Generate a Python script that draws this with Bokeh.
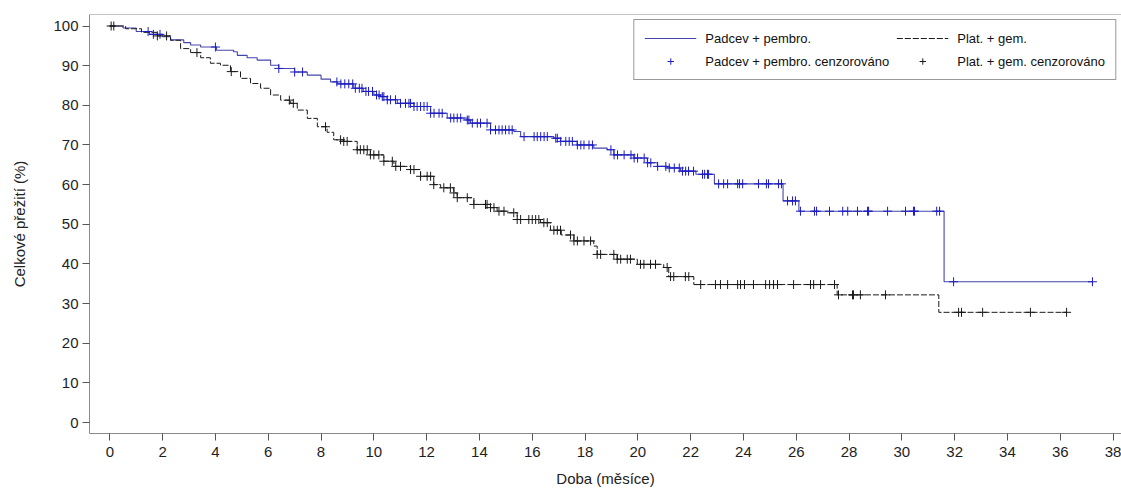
import numpy as np
from bokeh.plotting import figure
from bokeh.models import Range1d, FixedTicker, Legend, LegendItem, Span
from bokeh.embed import file_html
from bokeh.resources import INLINE

# ---------------- data ----------------
x_ticks = list(range(0, 40, 2))
y_ticks = list(range(0, 101, 10))

label_pp = "Padcev + pembro."
label_pg = "Plat. + gem."
label_pp_c = "Padcev + pembro. cenzorováno"
label_pg_c = "Plat. + gem. cenzorováno"

# Padcev + pembro. : step knots (month, % alive)
pp_time = [0, 0.5, 1.0, 1.5, 2.0, 2.3, 2.8, 3.06, 3.44, 4.04, 4.69, 4.83, 5.2, 5.58,
           6.09, 6.40, 7.0, 7.48, 8.0, 8.36, 8.61, 9.24, 9.6, 10.0, 10.25, 10.5,
           10.89, 11.52, 12.15, 12.78, 13.54, 13.66, 14.42, 15.30, 15.56, 16.82,
           17.07, 17.70, 18.33, 18.84, 19.09, 19.85, 20.36, 20.74, 21.11, 21.62,
           22.2, 22.9, 25.5, 26.1, 31.6]
pp_surv = [100, 99.5, 98.6, 97.9, 97.3, 96.5, 95.8, 95.2, 94.7, 93.9, 93.5, 92.6, 92.0, 91.4,
           90.1, 89.3, 88.4, 87.6, 86.6, 85.9, 85.4, 84.3, 83.5, 82.6, 82.2, 81.4,
           80.5, 79.7, 78.0, 76.8, 76.3, 75.5, 73.8, 73.4, 72.1, 71.7,
           70.9, 70.0, 69.2, 68.8, 67.5, 66.7, 65.5, 64.6, 64.2, 63.4,
           62.6, 60.2, 55.9, 53.3, 35.5]
pp_end = 37.22
pp_cens = [1.45, 1.65, 1.9, 4.0, 6.4, 7.0, 7.3, 8.6, 8.75, 8.9, 9.05, 9.2, 9.3, 9.45, 9.55,
           9.7, 9.8, 9.95, 10.1, 10.2,
           10.32, 10.38, 10.51, 10.63, 10.82, 11.01, 11.20, 11.33, 11.39, 11.52, 11.64, 11.77,
           11.90, 12.02, 12.15, 12.28, 12.47, 12.59, 12.91, 13.03, 13.16, 13.29, 13.54, 13.60,
           13.73, 13.92, 14.04, 14.29, 14.42, 14.61, 14.74, 14.86, 14.99, 15.12, 15.24, 15.69,
           16.07, 16.19, 16.32, 16.45, 16.57, 16.89, 16.95, 17.08, 17.27, 17.40, 17.52, 17.71,
           17.84, 17.96, 18.15, 18.28, 18.98, 19.10, 19.23, 19.48, 19.74, 19.86, 19.99, 20.24,
           20.37, 20.49, 20.75, 21.06, 21.19, 21.38, 21.57,
           21.69, 21.81, 21.92, 22.11, 22.45, 22.53, 22.64, 22.68, 23.06, 23.25, 23.40, 23.78,
           23.85, 23.97, 24.57, 24.87, 24.95, 25.33, 25.44, 25.67, 25.86, 25.97, 26.16, 26.69,
           26.77, 27.26, 27.76, 27.95, 28.32, 28.70, 28.74, 29.46, 30.14, 30.44, 30.48, 31.32,
           31.43, 31.96, 37.22]

# Plat. + gem. : step knots
pg_time = [0, 0.6, 1.2, 1.8, 2.3, 2.68, 3.06, 3.44, 3.81, 4.19, 4.57, 4.95, 5.33, 5.71,
           6.09, 6.47, 6.85, 7.10, 7.48, 7.86, 8.23, 8.48, 8.86, 9.37, 9.87, 10.38,
           10.76, 11.39, 11.77, 12.27, 12.53, 13.03, 13.16, 13.79, 14.42, 14.67, 15.05,
           15.43, 16.31, 16.69, 17.1, 17.58, 18.33, 18.46, 19.22, 19.98, 20.98, 21.17,
           22.12, 27.55, 31.4]
pg_surv = [100, 99.3, 98.4, 97.5, 96.4, 94.3, 93.3, 92.0, 90.6, 90.1, 88.5, 86.8, 85.5, 84.3,
           82.6, 81.3, 80.5, 78.8, 76.7, 74.6, 73.2, 71.3, 70.9, 68.8, 67.5, 65.9,
           64.6, 63.8, 62.1, 60.0, 59.2, 57.9, 56.7, 55.0, 54.2, 53.3, 52.9,
           51.2, 50.4, 48.5, 47.3, 45.8, 44.5, 42.4, 41.2, 39.9, 39.1, 36.8,
           34.8, 32.2, 27.8]
pg_end = 36.24
pg_cens = [0.05, 0.15, 1.8, 2.15, 3.3, 4.6, 6.8, 6.95, 8.17,
           8.74, 8.86, 8.99, 9.37, 9.49, 9.62, 9.75, 9.87, 10.0, 10.19, 10.38, 10.70, 10.83,
           11.01, 11.39, 11.52, 11.77, 12.02, 12.15, 12.27,
           12.65, 12.90, 13.03, 13.16, 13.54, 13.79, 14.23, 14.29, 14.42, 14.55, 14.74, 14.93,
           15.30, 15.43, 15.56, 15.87, 16.00, 16.13, 16.25, 16.44, 16.57, 16.82, 16.95, 17.07,
           17.45, 17.58, 17.71, 17.96, 18.21, 18.46, 18.59, 19.09, 19.22, 19.35, 19.60, 19.72,
           20.10, 20.23, 20.48, 20.67, 21.11, 21.24, 21.36, 21.80, 21.93,
           22.38, 22.94, 23.13, 23.40, 23.78, 23.89, 24.04, 24.38, 24.84, 24.99, 25.14, 25.29,
           25.90, 26.54, 26.66, 26.92, 27.45, 27.60, 28.13, 28.17, 28.43, 29.38, 32.15, 32.26,
           33.06, 34.87, 36.24]


def step_xy(times, surv, end):
    return list(times) + [end], list(surv) + [surv[-1]]


def at(times, surv, pts):
    idx = np.searchsorted(np.asarray(times), np.asarray(pts), side="right") - 1
    return list(np.asarray(surv)[idx])


BLUE_LINE = "#4646aa"
BLUE_MARK = "#1c1cc4"
BLACK = "#1a1a1a"
FRAME = "#8a8a8a"
FONT = "Liberation Sans"

p = figure(width=1121, height=489, output_backend="svg", toolbar_location=None,
           x_range=Range1d(-0.77, 38.32), y_range=Range1d(-2.76, 102.9),
           min_border_left=89, min_border_right=0, min_border_top=14, min_border_bottom=54)
p.background_fill_color = "white"
p.border_fill_color = "white"
p.outline_line_color = None
p.xgrid.visible = False
p.ygrid.visible = False

# top edge of the frame (no right edge, as in the original)
p.add_layout(Span(location=p.y_range.end, dimension="width", line_color=FRAME, line_width=1))

px, py = step_xy(pp_time, pp_surv, pp_end)
gx, gy = step_xy(pg_time, pg_surv, pg_end)

r_pp = p.step(px, py, mode="after", line_color=BLUE_LINE, line_width=1.1)
r_pg = p.step(gx, gy, mode="after", line_color=BLACK, line_width=1, line_dash="6 2")
r_ppc = p.scatter(pp_cens, at(pp_time, pp_surv, pp_cens), marker="cross", size=9,
                  line_color=BLUE_MARK, line_width=1)
r_pgc = p.scatter(pg_cens, at(pg_time, pg_surv, pg_cens), marker="cross", size=9,
                  line_color=BLACK, line_width=1)

for ax in (p.xaxis[0], p.yaxis[0]):
    ax.axis_line_color = FRAME
    ax.axis_line_width = 1
    ax.major_tick_line_color = "#555555"
    ax.minor_tick_line_color = None
    ax.major_tick_out = 7
    ax.major_tick_in = 0
    ax.major_label_text_font = FONT
    ax.major_label_text_font_size = "15px"
    ax.major_label_text_color = "#1e1e1e"
    ax.axis_label_text_font = FONT
    ax.axis_label_text_font_size = "15px"
    ax.axis_label_text_font_style = "normal"
    ax.axis_label_text_color = "#222222"

p.xaxis.ticker = FixedTicker(ticks=x_ticks)
p.yaxis.ticker = FixedTicker(ticks=y_ticks)
p.xaxis.axis_label = "Doba (měsíce)"
p.yaxis.axis_label = "Celkové přežití (%)"
p.xaxis.major_label_standoff = 6
p.xaxis.axis_label_standoff = 10
p.yaxis.major_label_standoff = 4
p.yaxis.axis_label_standoff = 22

legend = Legend(items=[
    LegendItem(label=label_pp, renderers=[r_pp]),
    LegendItem(label=label_pg, renderers=[r_pg]),
    LegendItem(label=label_pp_c, renderers=[r_ppc]),
    LegendItem(label=label_pg_c, renderers=[r_pgc]),
], location="top_right", orientation="horizontal", ncols=2)
legend.margin = 5
legend.padding = 10
legend.spacing = 7
legend.glyph_width = 52
legend.glyph_height = 16
legend.label_height = 16
legend.label_standoff = 9
legend.label_text_font = FONT
legend.label_text_font_size = "13px"
legend.label_text_color = "#111111"
legend.border_line_color = "#333333"
legend.border_line_width = 1
legend.background_fill_alpha = 1
p.add_layout(legend)

open("out.html", "w").write(file_html(p, INLINE))
